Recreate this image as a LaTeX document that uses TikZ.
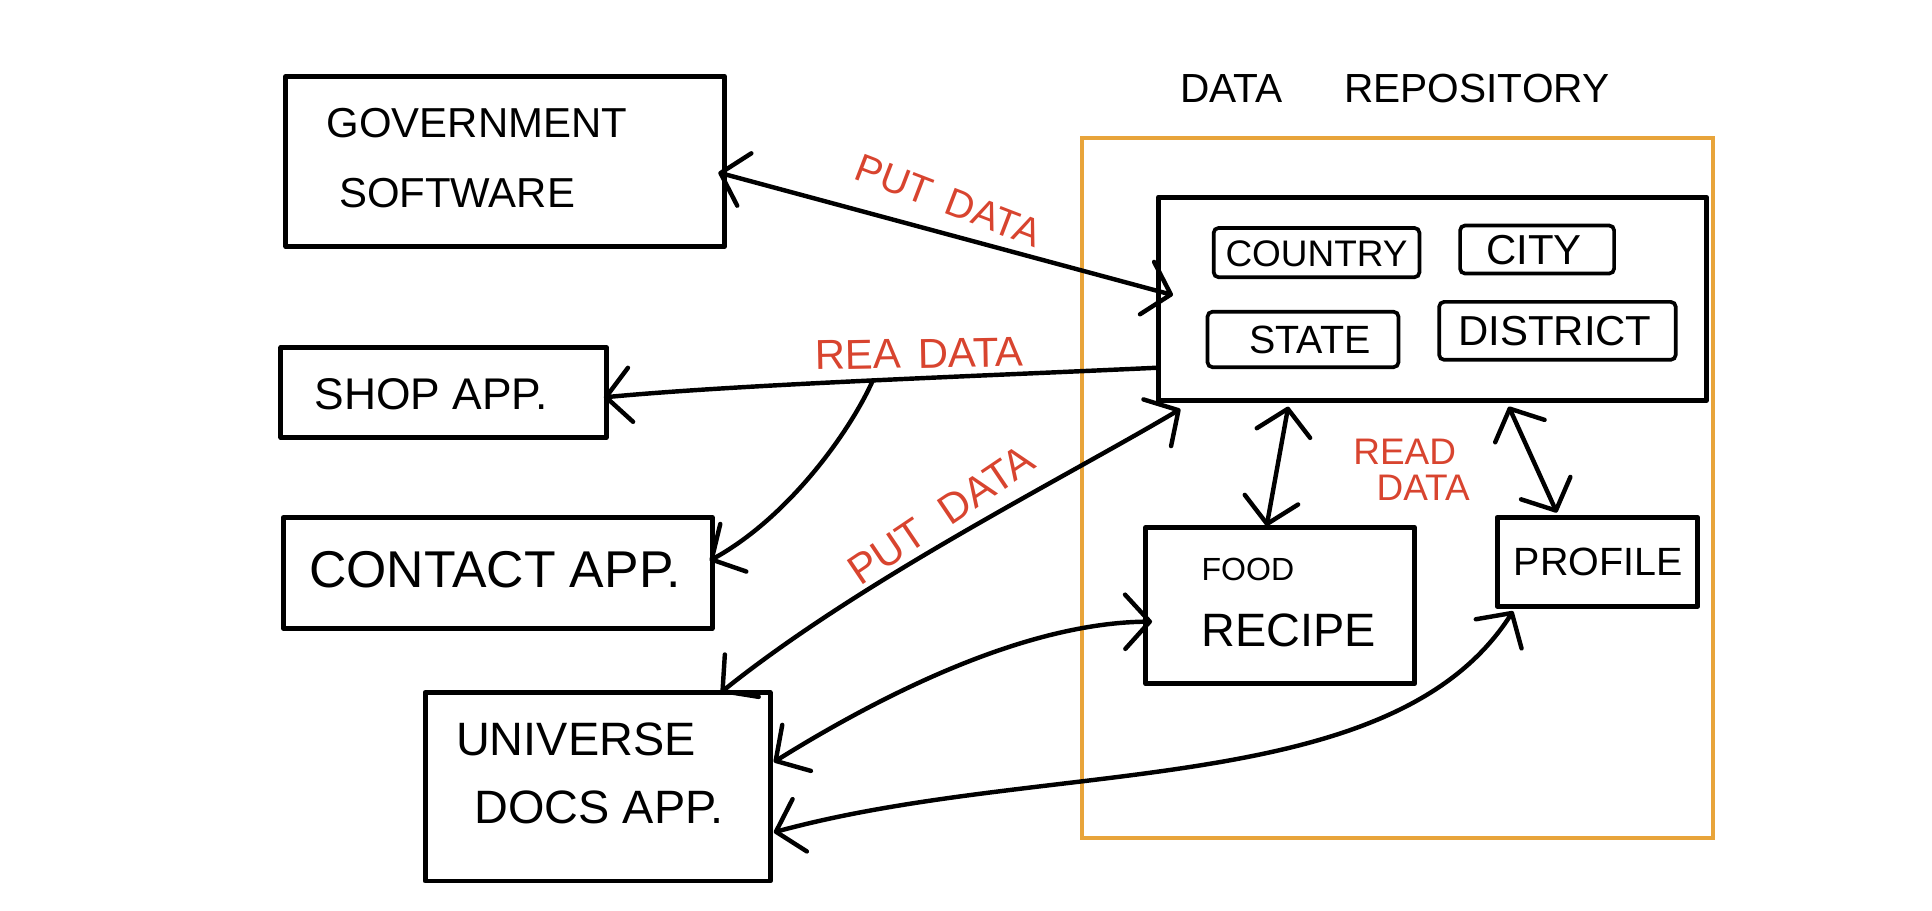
\documentclass[tikz,border=0pt]{standalone}
\usepackage{fontspec}
\setmainfont{Liberation Sans}
\usetikzlibrary{arrows.meta,calc}
\definecolor{repoorange}{RGB}{232,164,58}
\definecolor{labelred}{RGB}{216,68,47}
\begin{document}
\begin{tikzpicture}[x=1pt,y=-1pt,
  box/.style={draw, line width=4pt, line join=round, inner sep=0pt, outer sep=0pt},
  subbox/.style={draw, line width=3pt, rounded corners=4pt, inner sep=0pt, outer sep=0pt},
  txt/.style={inner sep=0pt, text=black},
  redlbl/.style={inner sep=0pt, text=labelred, font=\fontsize{32}{38}\selectfont},
  conn/.style={line width=3.6pt, line cap=round, line join=round},
  >={Straight Barb[length=20pt,width=44pt,round]}
]
\useasboundingbox (0,0) rectangle (1568,739);

% data repository frame
\node[draw=repoorange, line width=3pt, inner sep=0pt, outer sep=0pt,
      minimum width=512pt, minimum height=568pt] (repo) at (1134,396) {};
\node[txt, font=\fontsize{33}{38}\selectfont] (repotitle) at (1132,72) {DATA\hspace{50pt}REPOSITORY};

% left boxes
\node[box, minimum width=356pt, minimum height=138pt] (gov) at (410,131) {};
\node[txt, anchor=west, font=\fontsize{34}{40}\selectfont] (govt1) at (265,100) {GOVERNMENT};
\node[txt, anchor=west, font=\fontsize{34}{40}\selectfont] (govt2) at (275,157) {SOFTWARE};

\node[box, minimum width=264pt, minimum height=73pt] (shop) at (360,318.5) {};
\node[txt, font=\fontsize{36}{40}\selectfont] (shopt) at (350,320) {SHOP APP.};

\node[box, minimum width=348pt, minimum height=90pt] (contact) at (404,465) {};
\node[txt, font=\fontsize{42}{46}\selectfont] (contactt) at (402,462) {CONTACT APP.};

\node[box, minimum width=280pt, minimum height=153pt] (univ) at (485,638.5) {};
\node[txt, anchor=west, font=\fontsize{38}{42}\selectfont] (univt1) at (370,600) {UNIVERSE};
\node[txt, anchor=west, font=\fontsize{38}{42}\selectfont] (univt2) at (385,655) {DOCS APP.};

% inner repository box
\node[box, minimum width=445pt, minimum height=165pt] (inner) at (1162.5,242.5) {};
\node[subbox, minimum width=167pt, minimum height=40pt] (country) at (1068.5,205) {};
\node[txt, font=\fontsize{30}{34}\selectfont] (countryt) at (1068.5,206) {COUNTRY};
\node[subbox, minimum width=125pt, minimum height=39pt] (city) at (1247.5,202.5) {};
\node[txt, font=\fontsize{34}{38}\selectfont] (cityt) at (1245,203) {CITY};
\node[subbox, minimum width=155pt, minimum height=45pt] (state) at (1057.5,275.5) {};
\node[txt, font=\fontsize{32}{36}\selectfont] (statet) at (1063,276) {STATE};
\node[subbox, minimum width=192pt, minimum height=47pt] (district) at (1264,268.5) {};
\node[txt, font=\fontsize{34}{38}\selectfont] (districtt) at (1262,269) {DISTRICT};

% lower repository boxes
\node[box, minimum width=218pt, minimum height=127pt] (food) at (1039,491.5) {};
\node[txt, anchor=west, font=\fontsize{26}{30}\selectfont] (foodt1) at (975,462) {FOOD};
\node[txt, anchor=west, font=\fontsize{38}{42}\selectfont] (foodt2) at (975,512) {RECIPE};

\node[box, minimum width=163pt, minimum height=72pt] (profile) at (1296.5,456) {};
\node[txt, font=\fontsize{32}{36}\selectfont] (profilet) at (1297,456) {PROFILE};

% connectors
\draw[conn,<->] ($(gov.east)+(-5,9)$) -- ($(inner.west)+(12,-3)$);
\draw[conn,->] ($(inner.west)+(-2,56)$) .. controls (800,305) and (600,312) ..
   coordinate[pos=0.49] (br) ($(shop.east)+(-2,4)$);
\draw[conn,->] (br) .. controls (690,350) and (640,420) .. ($(contact.east)+(-2,-10)$);
\draw[conn,<->] ($(univ.north)+(100,0)$) .. controls (700,470) and (860,390) .. ($(inner.south west)+(18,7)$);
\draw[conn,<->] ($(univ.east)+(3,-20)$) .. controls (730,555) and (840,505) .. ($(food.west)+(5,13)$);
\draw[conn,<->] ($(univ.east)+(3,37)$) .. controls (850,615) and (1130,650) .. ($(profile.south west)+(13,4)$);
\draw[conn,<->] ($(inner.south)+(-117,5)$) -- ($(food.north)+(-11,-1)$);
\draw[conn,<->] ($(inner.south)+(62,5)$) -- ($(profile.north)+(-33,-4)$);

% labels
\node[redlbl, rotate=-21] (put1) at (770,163) {PUT\hspace{14pt}DATA};
\node[redlbl, rotate=1, font=\fontsize{34}{38}\selectfont] (rea) at (746,287) {REA\hspace{14pt}DATA};
\node[redlbl, rotate=34, font=\fontsize{34}{38}\selectfont] (put2) at (764,418) {PUT\hspace{20pt}DATA};
\node[redlbl, font=\fontsize{30}{34}\selectfont] (read1) at (1140,367) {READ};
\node[redlbl, font=\fontsize{30}{34}\selectfont] (read2) at (1155,396) {DATA};
\end{tikzpicture}
\end{document}
